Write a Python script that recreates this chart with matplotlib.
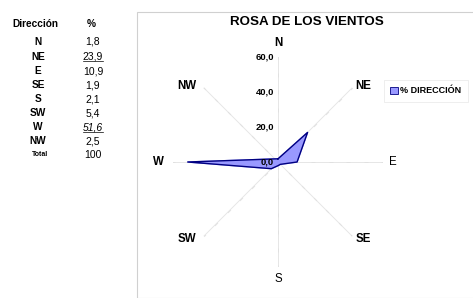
import numpy as np
import matplotlib
matplotlib.use("Agg")
import matplotlib.pyplot as plt
from matplotlib.transforms import ScaledTranslation
from matplotlib.patches import Rectangle

plt.rcParams['font.family'] = ['Liberation Sans', 'DejaVu Sans']

directions = ['N', 'NE', 'E', 'SE', 'S', 'SW', 'W', 'NW']
values = [1.8, 23.9, 10.9, 1.9, 2.1, 5.4, 51.6, 2.5]
value_labels = ['1,8', '23,9', '10,9', '1,9', '2,1', '5,4', '51,6', '2,5']
total_label = '100'
r_ticks = [0, 20, 40, 60]
r_tick_labels = ['0,0', '20,0', '40,0', '60,0']

W, H = 473, 298
fig = plt.figure(figsize=(W / 100, H / 100), dpi=100)
fig.patch.set_facecolor('white')


def fx(x):
    return x / W


def fy(y):
    return 1 - y / H


# chart area border
fig.add_artist(Rectangle((137 / W, 0), (W - 137) / W + 0.01, (H - 12) / H,
                         transform=fig.transFigure, fill=False,
                         edgecolor='#d0d0d0', linewidth=0.8))

# ---- table on the left ----
fig.text(fx(35), fy(24), 'Dirección', ha='center', va='center',
         fontsize=7.3, fontweight='bold')
fig.text(fx(91), fy(24), '%', ha='center', va='center',
         fontsize=7.3, fontweight='bold')
row_y = [42, 56.5, 71, 85, 99, 113, 127, 141]
fig.canvas.draw()
for d, vl, y in zip(directions, value_labels, row_y):
    fig.text(fx(38), fy(y), d, ha='center', va='center',
             fontsize=7.3, fontweight='bold')
    t = fig.text(fx(93), fy(y), vl, ha='center', va='center', fontsize=7.5,
                 style='italic' if vl == '51,6' else 'normal')
    if vl in ('23,9', '51,6'):
        bb = t.get_window_extent(renderer=fig.canvas.get_renderer())
        fig.add_artist(plt.Line2D([bb.x0 / W, bb.x1 / W],
                                  [(bb.y0 + 0.5) / H, (bb.y0 + 0.5) / H],
                                  transform=fig.transFigure, color='black',
                                  linewidth=0.5))
fig.text(fx(40), fy(155), 'Total', ha='center', va='center',
         fontsize=5, fontweight='bold')
fig.text(fx(93), fy(155), total_label, ha='center', va='center', fontsize=7.5)

# ---- radar chart ----
cx, cy, R = 278, 162, 105
ax = fig.add_axes([fx(cx - R), (H - cy - R) / H, 2 * R / W, 2 * R / H],
                  projection='polar')
ax.set_theta_zero_location('N')
ax.set_theta_direction(-1)
ax.set_ylim(0, 60)
ax.spines['polar'].set_visible(False)
ax.set_facecolor('none')

theta = np.deg2rad(np.arange(len(directions)) * 45)
ax.set_xticks(theta)
ax.set_xticklabels([])
ax.xaxis.grid(True, color='#e6e6e6', linewidth=0.7)
ax.set_yticks(r_ticks)
ax.set_yticklabels([])
ax.yaxis.grid(False)

# small tick marks along spokes
for th in theta:
    for rr in range(10, 61, 10):
        ax.plot([th], [rr], marker=(2, 0, -np.rad2deg(th)), markersize=3,
                color='#e0e0e0', markeredgewidth=0.6)

off = ScaledTranslation(-4 / 100, 0, fig.dpi_scale_trans)
for rv, lab in zip(r_ticks, r_tick_labels):
    ax.text(0, rv, lab, transform=ax.transData + off, ha='right', va='center',
            fontsize=6.8, fontweight='bold', zorder=5)

# category labels around the radar
label_pos = [(278, 43), (363, 86), (393, 162), (363, 239),
             (278, 279), (187, 239), (158, 162), (187, 86)]
for d, (px, py) in zip(directions, label_pos):
    fig.text(fx(px), fy(py), d, ha='center', va='center',
             fontsize=8.3, fontweight='bold' if d not in ('E', 'S') else 'normal')

th_closed = np.concatenate([theta, theta[:1]])
v_closed = np.concatenate([values, values[:1]])
ax.fill(th_closed, v_closed, color='#9999ff', zorder=3, label='% DIRECCIÓN')
ax.plot(th_closed, v_closed, color='#000080', linewidth=1.0, zorder=4)

fig.text(fx(307), fy(22), 'ROSA DE LOS VIENTOS', ha='center', va='center',
         fontsize=9.6, fontweight='bold')

leg = fig.legend(loc='center', bbox_to_anchor=(fx(426), fy(91)),
                 frameon=True, handlelength=0.8,
                 handleheight=0.8, borderpad=0.45, handletextpad=0.3,
                 prop={'weight': 'bold', 'size': 6.5})
leg.get_frame().set_edgecolor('#e6e6e6')
leg.get_frame().set_linewidth(0.6)
leg.get_frame().set_boxstyle('square')
for h in leg.legend_handles:
    h.set_edgecolor('#000080')
    h.set_linewidth(0.6)

fig.savefig('out.png', dpi=100)
